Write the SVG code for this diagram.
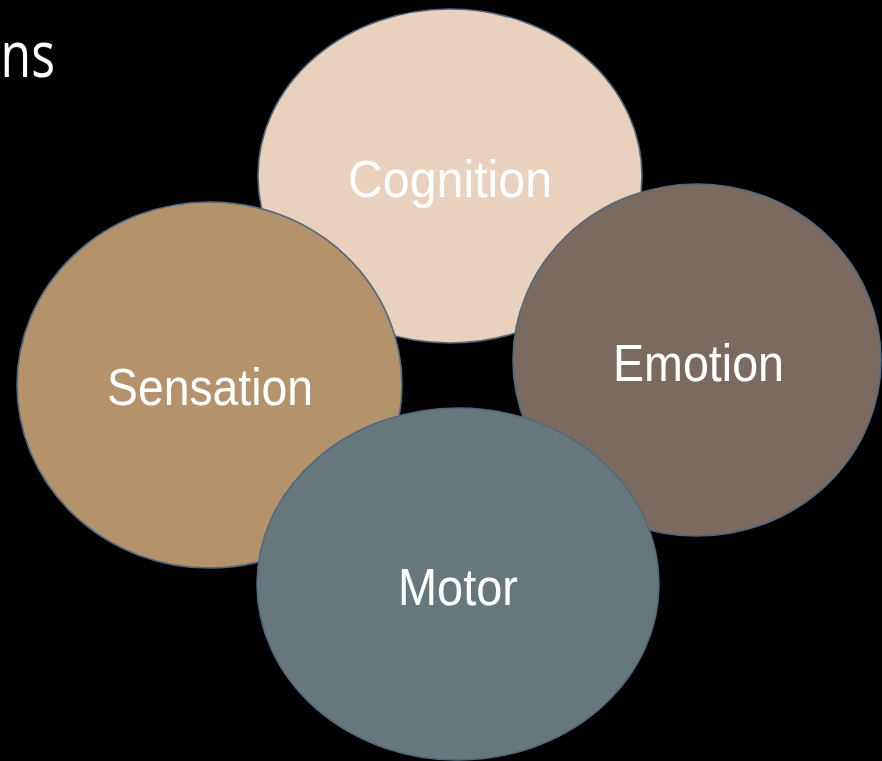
<svg xmlns="http://www.w3.org/2000/svg" width="882" height="761" viewBox="0 0 882 761">
<style>
.node{stroke:#52687C;stroke-width:1.6}
.lbl{font-family:"Liberation Sans",Arial,sans-serif;font-size:52px;fill:#FFFFFF;text-anchor:middle}
</style>
<rect width="882" height="761" fill="#000000"/>
<text transform="translate(55,77) scale(0.78,1)" font-family="'Open Sans',Lato,sans-serif" font-weight="400" font-size="64" fill="#FFFFFF" text-anchor="end">ns</text>
<g id="connectors"/>
<g id="cognition">
<ellipse class="node" cx="450" cy="176" rx="192" ry="167" fill="#EAD1BE"/>
<text class="lbl" x="450" y="197" textLength="204" lengthAdjust="spacingAndGlyphs">Cognition</text>
</g>
<g id="emotion">
<ellipse class="node" cx="697" cy="360" rx="184" ry="176" fill="#7A6A60"/>
<text class="lbl" x="698.5" y="381" textLength="171" lengthAdjust="spacingAndGlyphs">Emotion</text>
</g>
<g id="sensation">
<ellipse class="node" cx="209.5" cy="385" rx="192.5" ry="183" fill="#B3926C"/>
<text class="lbl" x="210" y="405" textLength="206" lengthAdjust="spacingAndGlyphs">Sensation</text>
</g>
<g id="motor">
<ellipse class="node" cx="458" cy="584" rx="201" ry="176" fill="#66787B"/>
<text class="lbl" x="458" y="605" textLength="120" lengthAdjust="spacingAndGlyphs">Motor</text>
</g>
</svg>
